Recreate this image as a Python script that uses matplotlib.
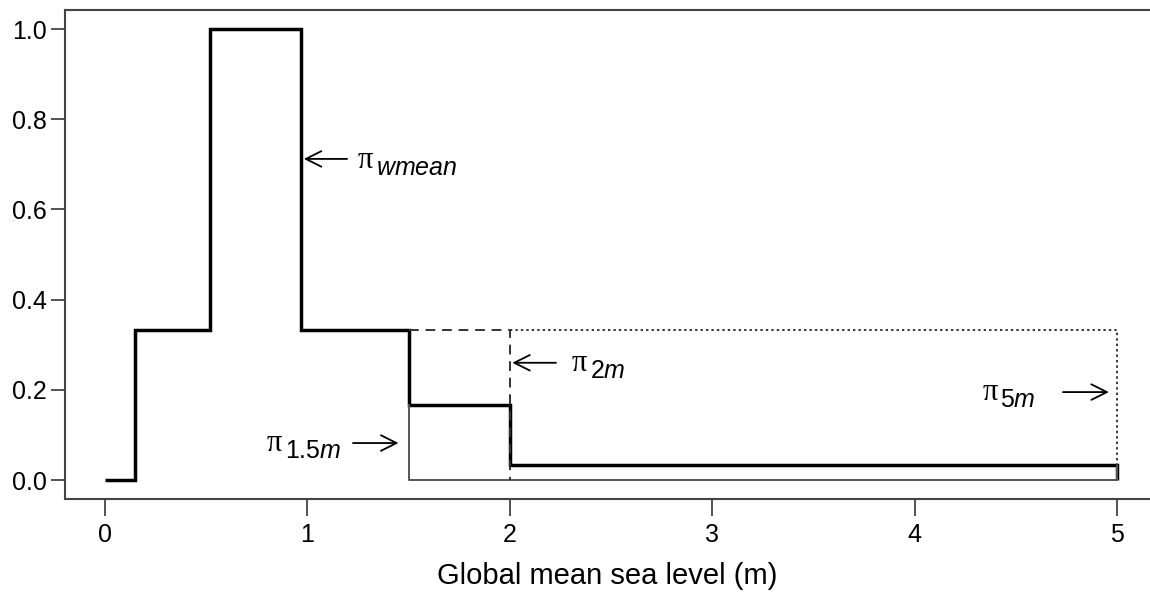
import numpy as np
import matplotlib.pyplot as plt

plt.rcParams['font.family'] = ['Liberation Sans', 'DejaVu Sans']
plt.rcParams['mathtext.fontset'] = 'custom'
plt.rcParams['mathtext.rm'] = 'Liberation Sans'
plt.rcParams['mathtext.it'] = 'Liberation Sans:italic'

# weighted mean step function
edges = [0, 0.15, 0.52, 0.97, 1.5, 2.0, 5.0]
wmean = [0, 1/3, 1.0, 1/3, 1/6, 1/30]

# alternative cut-offs
p15_x = [1.5, 1.5, 5.0, 5.0]
p15_y = [1/6, 0, 0, 1/30]
p2_x = [1.5, 2.0, 2.0]
p2_y = [1/3, 1/3, 0]
p5_x = [2.0, 5.0, 5.0]
p5_y = [1/3, 1/3, 1/30]

# labels: subscript, text x, text y, arrow start, arrow end
labels = [r'$\mathit{wmean}$', r'2$\mathit{m}$', r'1.5$\mathit{m}$', r'5$\mathit{m}$']
lab_x = [1.25, 2.305, 0.80, 4.335]
lab_y = [0.708, 0.258, 0.08, 0.193]
arr_from = [(1.196, 0.712), (2.228, 0.26), (1.225, 0.082), (4.733, 0.195)]
arr_to = [(0.982, 0.712), (2.012, 0.26), (1.45, 0.082), (4.96, 0.195)]

xticks = [0, 1, 2, 3, 4, 5]
yticks = [0.0, 0.2, 0.4, 0.6, 0.8, 1.0]

fig = plt.figure(figsize=(11.5, 5.94), dpi=100)
ax = fig.add_axes([0.0565, 0.160, 0.9435, 0.823])

ax.plot(p15_x, p15_y, color='#555555', lw=1.4)
ax.plot(p2_x, p2_y, color='#333333', lw=1.4, ls=(0, (5, 3.5)))
ax.plot(p5_x, p5_y, color='#333333', lw=1.4, ls=(0, (1.2, 1.6)))
ax.stairs(wmean, edges, baseline=0, color='black', lw=2.5)

for s, tx, ty, a0, a1 in zip(labels, lab_x, lab_y, arr_from, arr_to):
    ax.annotate('', xy=a1, xytext=a0,
                arrowprops=dict(arrowstyle='->', color='black', lw=1.3,
                                mutation_scale=28, shrinkA=0, shrinkB=0))
    ax.text(tx, ty, 'π', fontsize=22, family=['Liberation Serif'],
            va='center', ha='left')
    ax.annotate(s, xy=(tx, ty), xytext=(13, -5), textcoords='offset points',
                fontsize=18, va='center', ha='left')

ax.set_xlim(-0.198, 5.163)
ax.set_ylim(-0.042, 1.042)
ax.set_xticks(xticks)
ax.set_xticklabels([str(v) for v in xticks])
ax.set_yticks(yticks)
ax.set_yticklabels(['%.1f' % v for v in yticks])
ax.tick_params(axis='x', length=12, width=1.3, color='#444444', labelsize=18, pad=5)
ax.tick_params(axis='y', length=10, width=1.3, color='#444444', labelsize=18, pad=3)
ax.spines['right'].set_visible(False)
for sp in ['top', 'left', 'bottom']:
    ax.spines[sp].set_color('#444444')
    ax.spines[sp].set_linewidth(1.5)
ax.set_xlabel('Global mean sea level (m)', fontsize=21, labelpad=11)

fig.savefig('out.png', dpi=100)
